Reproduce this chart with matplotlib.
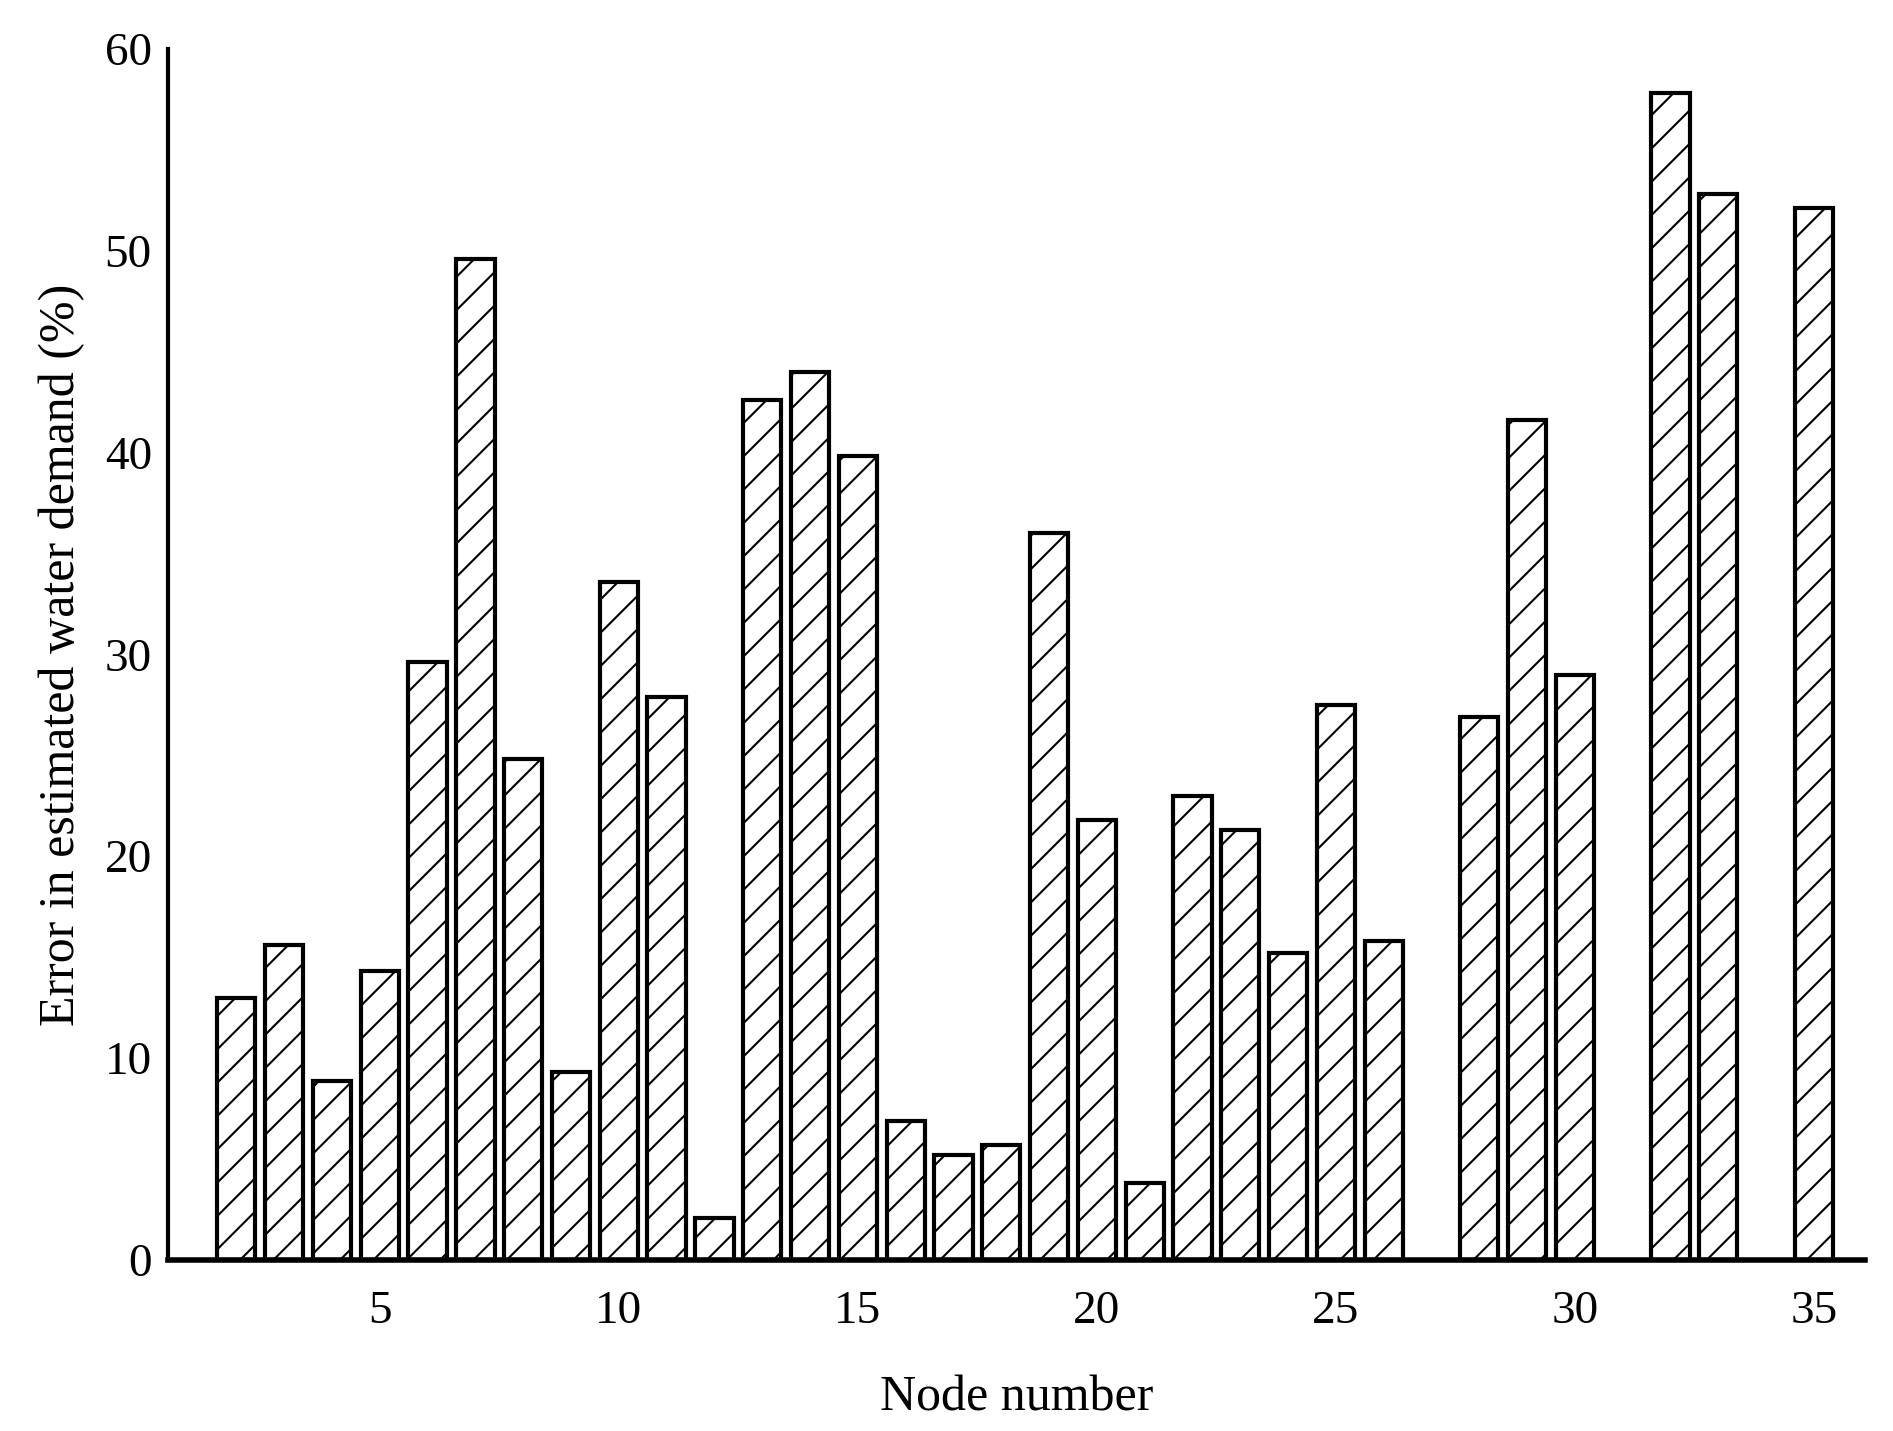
import numpy as np
import matplotlib.pyplot as plt

plt.rcParams['font.family'] = ['Liberation Serif', 'DejaVu Serif']
plt.rcParams['hatch.color'] = '#ee00ee'
plt.rcParams['hatch.linewidth'] = 1.5

nodes = [2, 3, 4, 5, 6, 7, 8, 9, 10, 11, 12, 13, 14, 15, 16, 17, 18, 19, 20,
         21, 22, 23, 24, 25, 26, 28, 29, 30, 32, 33, 35]
errors = [13.0, 15.6, 8.85, 14.3, 29.6, 49.6, 24.8, 9.3, 33.6, 27.9, 2.1, 42.6,
          44.0, 39.8, 6.9, 5.2, 5.7, 36.0, 21.8, 3.8, 23.0, 21.3, 15.2, 27.5,
          15.8, 26.9, 41.6, 29.0, 57.8, 52.8, 52.1]

fig = plt.figure(figsize=(18.93, 14.31), dpi=100)
ax = fig.add_axes([0.089, 0.1195, 0.896, 0.8465])
ax.bar(nodes, errors, width=0.8, color='white', edgecolor='black',
       linewidth=3, hatch='/')

ax.set_xlim(0.58, 36.06)
ax.set_ylim(0, 60)
ax.set_xticks([5, 10, 15, 20, 25, 30, 35])
ax.set_yticks([0, 10, 20, 30, 40, 50, 60])
ax.tick_params(length=0, labelsize=34, pad=12)
ax.tick_params(axis='x', pad=22)
for s in ['top', 'right']:
    ax.spines[s].set_visible(False)
ax.spines['left'].set_linewidth(3)
ax.spines['bottom'].set_linewidth(4)
ax.set_xlabel('Node number', fontsize=36, labelpad=30)
ax.set_ylabel('Error in estimated water demand (%)', fontsize=36, labelpad=14)

fig.savefig('out.png', dpi=100)
